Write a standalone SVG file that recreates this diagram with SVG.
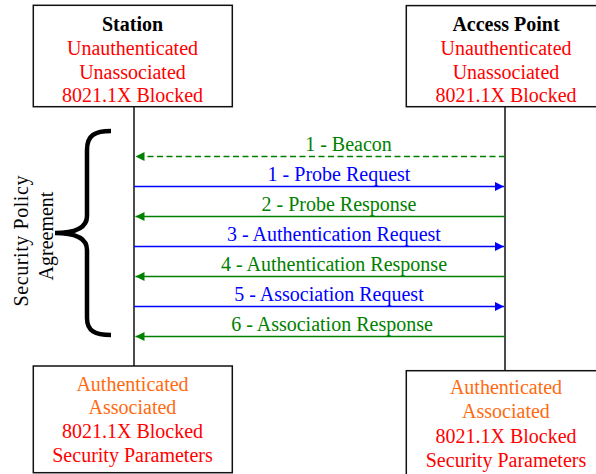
<svg xmlns="http://www.w3.org/2000/svg" width="596" height="474" viewBox="0 0 596 474">
<style>
text{font-family:"Liberation Serif","Times New Roman",serif;font-size:20px;text-anchor:middle}
.box{fill:#fff;stroke:#111;stroke-width:1.5}
.life{stroke:#111;stroke-width:1.5;fill:none}
.red{fill:#ff0000}
.org{fill:#ff6a10}
.blk{fill:#000;font-weight:bold}
.b{fill:#0000ff}
.g{fill:#008000}
.lb{stroke:#0000ff;stroke-width:1.5;fill:none}
.lg{stroke:#008000;stroke-width:1.5;fill:none}
</style>
<defs>
<marker id="ab" viewBox="0 0 10 10" refX="10" refY="5" markerWidth="10" markerHeight="9" markerUnits="userSpaceOnUse" orient="auto"><path d="M0,0 L10,5 L0,10 z" fill="#0000ff"/></marker>
<marker id="ag" viewBox="0 0 10 10" refX="10" refY="5" markerWidth="10" markerHeight="9" markerUnits="userSpaceOnUse" orient="auto"><path d="M0,0 L10,5 L0,10 z" fill="#008000"/></marker>
</defs>
<g id="lifelines">
<line class="life" x1="134" y1="106" x2="134" y2="366"/>
<line class="life" x1="505" y1="106" x2="505" y2="371"/>
</g>
<g id="station">
<rect class="box" x="33.3" y="5.3" width="199" height="101.4"/>
<text class="blk" x="132.5" y="30.5">Station</text>
<text class="red" x="132.5" y="54.5">Unauthenticated</text>
<text class="red" x="132.5" y="78.5">Unassociated</text>
<text class="red" x="132.5" y="102">8021.1X Blocked</text>
</g>
<g id="access-point">
<rect class="box" x="406.3" y="5.6" width="200" height="101.1"/>
<text class="blk" x="506" y="30.5">Access Point</text>
<text class="red" x="506" y="54.5">Unauthenticated</text>
<text class="red" x="506" y="78.5">Unassociated</text>
<text class="red" x="506" y="102">8021.1X Blocked</text>
</g>
<g id="station-after">
<rect class="box" x="33.3" y="366" width="199" height="106.7"/>
<text class="org" x="132.5" y="390.5">Authenticated</text>
<text class="org" x="132.5" y="414.2">Associated</text>
<text class="red" x="132.5" y="437.9">8021.1X Blocked</text>
<text class="red" x="132.5" y="461.6">Security Parameters</text>
</g>
<g id="access-point-after">
<rect class="box" x="406.3" y="370.7" width="200" height="110"/>
<text class="org" x="506" y="394.3">Authenticated</text>
<text class="org" x="506" y="418.3">Associated</text>
<text class="red" x="506" y="442.5">8021.1X Blocked</text>
<text class="red" x="506" y="466.6">Security Parameters</text>
</g>
<g id="agreement">
<path d="M111,131 C95,131 87,135 87,150 L87,216 C87,228 76,233 55,233 C76,233 87,238 87,250 L87,318 C87,331 95,335 111,335" fill="none" stroke="#000" stroke-width="4.5"/>
<text transform="translate(28,241) rotate(-90)" fill="#000" textLength="131" lengthAdjust="spacing">Security Policy</text>
<text transform="translate(53,236) rotate(-90)" fill="#000">Agreement</text>
</g>
<g id="connectors">
<line class="lg" x1="505" y1="156.5" x2="135.5" y2="156.5" stroke-dasharray="6,3.5" marker-end="url(#ag)"/>
<line class="lb" x1="134" y1="186.5" x2="504" y2="186.5" marker-end="url(#ab)"/>
<line class="lg" x1="505" y1="216.5" x2="135.5" y2="216.5" marker-end="url(#ag)"/>
<line class="lb" x1="134" y1="246.5" x2="504" y2="246.5" marker-end="url(#ab)"/>
<line class="lg" x1="505" y1="276.5" x2="135.5" y2="276.5" marker-end="url(#ag)"/>
<line class="lb" x1="134" y1="306.5" x2="504" y2="306.5" marker-end="url(#ab)"/>
<line class="lg" x1="505" y1="336.5" x2="135.5" y2="336.5" marker-end="url(#ag)"/>
<text class="g" x="348.5" y="151">1 - Beacon</text>
<text class="b" x="339" y="181">1 - Probe Request</text>
<text class="g" x="339" y="211">2 - Probe Response</text>
<text class="b" x="334" y="241">3 - Authentication Request</text>
<text class="g" x="334" y="271">4 - Authentication Response</text>
<text class="b" x="329" y="301">5 - Association Request</text>
<text class="g" x="332" y="331">6 - Association Response</text>
</g>
</svg>
